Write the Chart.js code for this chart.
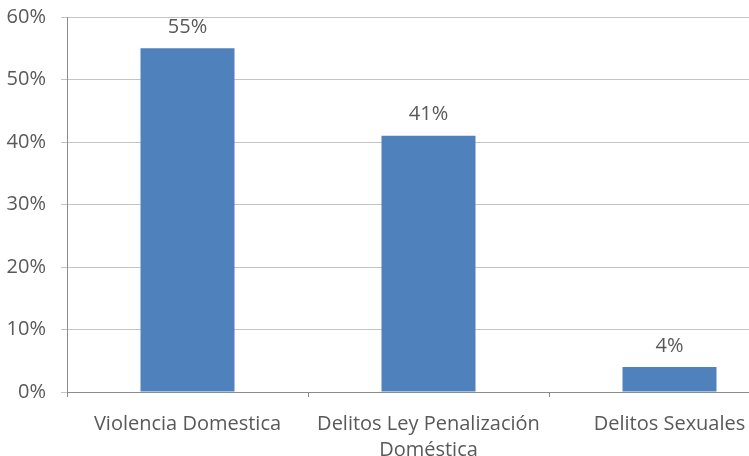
<!DOCTYPE html>
<html>
<head>
<meta charset="utf-8">
<script src="https://cdn.jsdelivr.net/npm/chart.js@4/dist/chart.umd.min.js"></script>
<style>
  html, body { margin: 0; padding: 0; background: #fff; overflow: hidden; }
  #wrap { width: 790px; height: 466px; margin-top: -10px; }
</style>
</head>
<body>
<div id="wrap"><canvas id="chart"></canvas></div>
<script>
const categories = ['Violencia Domestica', ['Delitos Ley Penalización', 'Doméstica'], 'Delitos Sexuales'];
const values = [55, 41, 4];
const valueLabels = ['55%', '41%', '4%'];

const textColor = '#595959';
const fontFamily = '"Open Sans", sans-serif';

// draws the percentage above each bar
const barLabels = {
    id: 'barLabels',
    afterDatasetsDraw(chart) {
        const ctx = chart.ctx;
        const meta = chart.getDatasetMeta(0);
        ctx.save();
        ctx.fillStyle = textColor;
        ctx.font = '20px ' + fontFamily;
        ctx.textAlign = 'center';
        ctx.textBaseline = 'middle';
        meta.data.forEach((bar, i) => {
            ctx.fillText(valueLabels[i], bar.x, bar.y - 21);
        });
        ctx.restore();
    }
};

const config = {
    type: 'bar',
    data: {
        labels: categories,
        datasets: [{
            data: values,
            backgroundColor: '#4F81BD',
            borderWidth: 0,
            barPercentage: 0.78,
            categoryPercentage: 0.5,
        }],
    },
    options: {
        responsive: true,
        maintainAspectRatio: false,
        animation: false,
        layout: { padding: { top: 10, left: 0, right: 0, bottom: 0 } },
        plugins: {
            legend: { display: false },
            tooltip: { enabled: false },
        },
        scales: {
            x: {
                grid: {
                    offset: true,
                    drawOnChartArea: false,
                    tickLength: 5,
                    color: '#8c8c8c',
                },
                border: { color: '#8c8c8c' },
                ticks: {
                    color: textColor,
                    font: { family: fontFamily, size: 20, lineHeight: 1.3 },
                    maxRotation: 0,
                    padding: 14,
                },
                afterFit(scale) { scale.height = 64; },
            },
            y: {
                min: 0,
                max: 60,
                ticks: {
                    stepSize: 10,
                    color: textColor,
                    font: { family: fontFamily, size: 20 },
                    padding: 15,
                    callback: v => v + '%',
                },
                grid: { color: '#c4c4c4', tickLength: 6 },
                border: { color: '#8c8c8c' },
                afterFit(scale) { scale.width = 67; },
            },
        },
    },
    plugins: [barLabels],
};

const ctx = document.getElementById('chart').getContext('2d');
const myChart = new Chart(ctx, config);
</script>
</body>
</html>
